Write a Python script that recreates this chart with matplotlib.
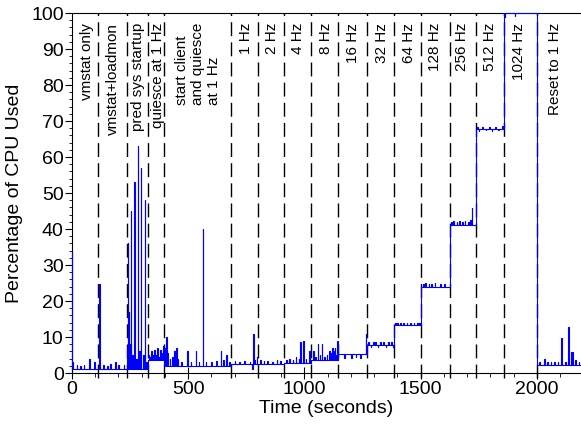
import numpy as np
import matplotlib.pyplot as plt

plt.rcParams['font.family'] = ['Liberation Sans', 'DejaVu Sans']

# phase boundaries (dashed lines), seconds
phase_edges = [113, 235, 328, 397, 684, 800, 910, 1028, 1145, 1268,
               1385, 1501, 1625, 1737, 1858, 2000]
t_end = 2190

# baseline cpu % in each phase (one more than phase_edges)
phase_level = [1.0, 1.0, 1.2, 3.5, 2.0, 2.5, 2.6, 2.8, 3.6, 5.2,
               7.8, 13.2, 24.0, 41.2, 67.9, 100.0, 2.2]

# spikes / jitter on top of the baseline: time (s), cpu %
spike_t = [0, 3, 20, 35, 50, 75, 96, 118,
           135, 150, 165, 185, 200, 222,
           238, 240, 245, 250, 254, 260, 268, 275, 282, 290, 297, 305, 314, 320,
           330, 335, 342, 348, 353, 360, 366, 372, 378, 385, 392,
           400, 405, 410, 420, 432, 440, 449, 455, 470, 495, 510, 532, 545, 562,
           575, 600, 620, 640, 650, 662, 675,
           700, 720, 740, 765, 775, 780, 785, 795,
           810, 825, 840, 860, 880, 895,
           920, 935, 950, 962, 975, 983, 995, 1005, 1019,
           1037, 1045, 1057, 1065, 1074, 1085, 1095, 1105, 1110, 1118, 1125,
           1130, 1135, 1141,
           1170, 1200, 1220, 1240, 1264,
           1275, 1285, 1295, 1305, 1315, 1325, 1340, 1350, 1360, 1372, 1380,
           1390, 1400, 1412, 1425, 1440, 1455, 1470, 1485, 1495,
           1510, 1520, 1535, 1545, 1560, 1585, 1600,
           1630, 1640, 1655, 1665, 1680, 1690, 1705, 1712, 1719,
           1742, 1750, 1765, 1780, 1795, 1805, 1820, 1835, 1850,
           1862, 1905,
           2010, 2031, 2045, 2060, 2075, 2090, 2105, 2122, 2135, 2145, 2152,
           2165, 2180]
spike_pct = [34, 3.0, 2.2, 2.0, 2.2, 3.9, 3.0, 24.7,
             2.2, 2.0, 2.5, 3.0, 2.2, 2.2,
             7, 36, 17, 8, 45, 5, 53, 4, 63, 6, 57, 5, 48, 3,
             5, 4.5, 6, 5, 6.5, 5, 7, 4.5, 6.5, 5.5, 7.5,
             7, 10, 5.5, 4, 4.5, 6, 7, 4, 3, 6, 3, 6, 3, 40,
             3, 3, 3.2, 6, 3.5, 5, 3,
             3.2, 3, 3.3, 3, 1.0, 10.8, 3.5, 4.5,
             3.5, 3.2, 3.4, 3.0, 3.5, 3.3,
             3.5, 3.8, 3.5, 4.5, 3.8, 8.7, 8.8, 4.0, 6,
             6, 4.5, 8, 5, 8, 4.5, 5, 6, 5.5, 7, 6,
             7, 5, 8.8,
             4.3, 4.3, 4.5, 4.3, 10.8,
             8.7, 7.2, 8.6, 8.7, 7.2, 8.5, 8.7, 7.3, 8.6, 8.6, 7.2,
             14.0, 14.0, 13.9, 14.0, 13.9, 14.0, 13.9, 14.0, 14.0,
             24.8, 24.9, 24.8, 24.8, 24.9, 24.8, 24.8,
             42, 42.2, 42, 42.2, 42, 42.1, 42, 42.5, 45.7,
             68.4, 67.3, 68.4, 67.4, 68.4, 67.3, 68.4, 67.4, 68.5,
             98.8, 99.2,
             3, 3.8, 3, 3, 3, 3, 9.8, 3, 12.8, 5.8, 5.8,
             3.5, 3]

labels = ["vmstat only", "vmstat+loadmon", "pred sys startup", "quiesce at 1 Hz",
          "start client\nand quiesce\nat 1 Hz", "1 Hz", "2 Hz", "4 Hz", "8 Hz",
          "16 Hz", "32 Hz", "64 Hz", "128 Hz", "256 Hz", "512 Hz", "1024 Hz",
          "Reset to 1 Hz"]
label_x = [65, 176, 284, 370, 542, 747, 859, 972, 1095, 1209, 1332, 1450,
           1561, 1680, 1798, 1923, 2077]

# build the trace: baseline per phase with spikes inserted
starts = [0] + phase_edges
ends = phase_edges + [t_end]
xs, ys = [], []
for s, e, lev in zip(starts, ends, phase_level):
    xs.append(s); ys.append(lev)
    for t, v in zip(spike_t, spike_pct):
        if s <= t < e:
            w = 1.5 if abs(v - lev) > 8 else 3
            xs += [t, t, t + w, t + w]
            ys += [lev, v, v, lev]
    xs.append(e); ys.append(lev)

fig = plt.figure(figsize=(5.81, 4.30), dpi=100)
ax = fig.add_axes([72 / 581, 57 / 430, 509 / 581, 360 / 430])

ax.plot(xs, ys, color='#0000ff', lw=0.8, clip_on=False, zorder=3)
ax.vlines(phase_edges, -1.4, 100, colors='black', lw=1.0,
          linestyles=(0, (10, 4.5)), clip_on=False, zorder=2)

for lab, x in zip(labels, label_x):
    ax.text(x, 97.3, lab, rotation=90, ha='center', va='top',
            multialignment='left', fontsize=11, linespacing=1.2)

ax.set_xlim(0, t_end)
ax.set_ylim(0, 100)
ax.set_xticks([0, 500, 1000, 1500, 2000])
ax.set_xticks(np.arange(0, 2200, 100), minor=True)
ax.set_yticks(np.arange(0, 101, 10))
ax.set_yticks(np.arange(0, 101, 2), minor=True)
ax.tick_params(axis='x', which='major', direction='inout', length=8, labelsize=14, pad=2)
ax.tick_params(axis='x', which='minor', direction='out', length=3)
ax.tick_params(axis='y', which='major', direction='out', length=5, labelsize=14, pad=1)
ax.tick_params(axis='y', which='minor', direction='out', length=2.5)
ax.spines['right'].set_visible(False)

ax.set_xlabel('Time (seconds)', fontsize=14, labelpad=1)
ax.set_ylabel('Percentage of CPU Used', fontsize=14, labelpad=6)

fig.savefig('out.png', dpi=100)
